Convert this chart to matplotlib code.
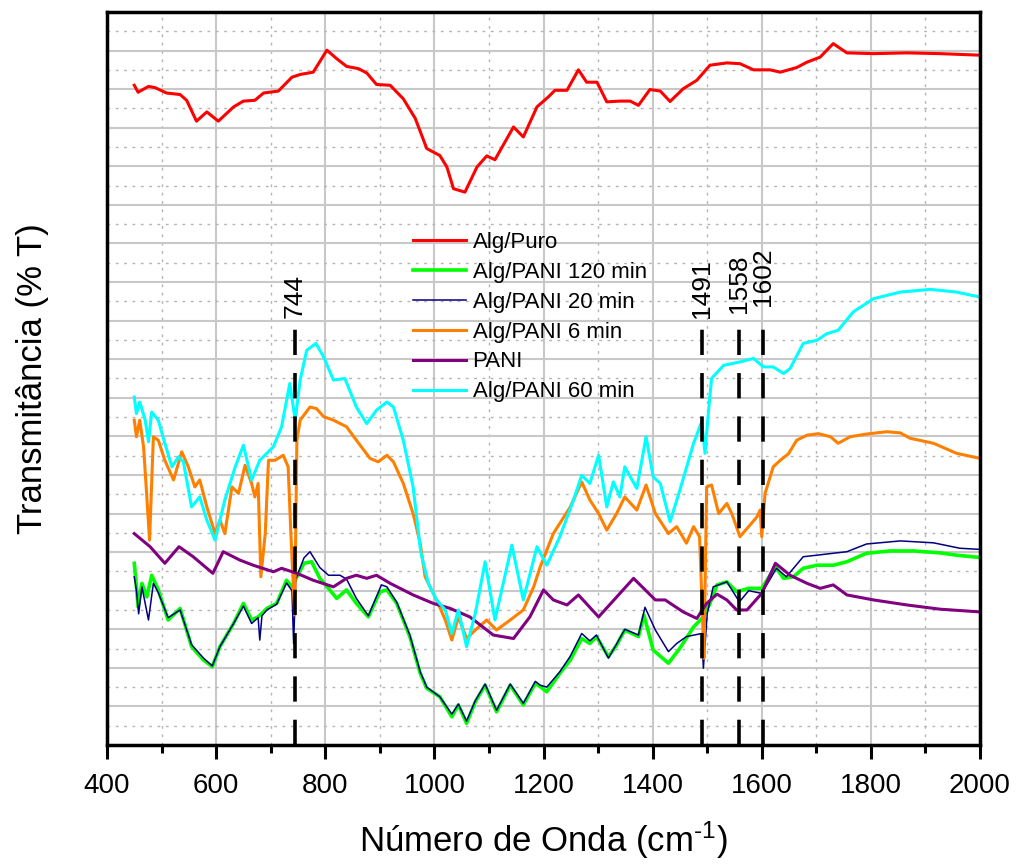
import numpy as np
import matplotlib
matplotlib.use("Agg")
import matplotlib.pyplot as plt
from matplotlib.ticker import MultipleLocator

plt.rcParams['font.family'] = ['Liberation Sans', 'DejaVu Sans']
plt.rcParams['mathtext.fontset'] = 'custom'
plt.rcParams['mathtext.rm'] = 'Liberation Sans'
plt.rcParams['mathtext.default'] = 'regular'

# spectra: (wavenumber, transmittance in arbitrary units)
alg_puro = [(450, 17.10), (457, 16.92), (476, 17.07), (488, 17.04), (509, 16.90), (534, 16.86),
            (546, 16.71), (564, 16.17), (583, 16.41), (604, 16.17), (632, 16.54), (650, 16.69),
            (671, 16.71), (687, 16.90), (714, 16.95), (739, 17.31), (754, 17.38), (778, 17.44),
            (803, 18.01), (821, 17.79), (839, 17.59), (861, 17.53), (876, 17.42), (894, 17.12),
            (919, 17.10), (943, 16.75), (965, 16.24), (986, 15.46), (1010, 15.28), (1023, 14.98),
            (1035, 14.42), (1056, 14.33), (1078, 14.98), (1096, 15.27), (1111, 15.17), (1145, 16.02),
            (1163, 15.76), (1188, 16.54), (1209, 16.80), (1221, 16.97), (1243, 16.97), (1264, 17.50),
            (1279, 17.18), (1298, 17.18), (1316, 16.67), (1340, 16.69), (1359, 16.69), (1374, 16.58),
            (1395, 16.99), (1414, 16.95), (1432, 16.68), (1456, 17.01), (1481, 17.23), (1505, 17.62),
            (1536, 17.68), (1560, 17.66), (1585, 17.50), (1615, 17.50), (1634, 17.44), (1664, 17.56),
            (1683, 17.70), (1707, 17.83), (1731, 18.18), (1756, 17.94), (1805, 17.92), (1866, 17.94),
            (1927, 17.92), (2000, 17.88)]

pani_120 = [(450, 4.71), (454, 4.10), (457, 3.58), (464, 4.19), (473, 3.84), (482, 4.40), (494, 4.02),
            (512, 3.24), (534, 3.54), (555, 2.55), (577, 2.20), (593, 2.03), (607, 2.55), (632, 3.15),
            (650, 3.67), (665, 3.24), (677, 3.32), (693, 3.54), (711, 3.67), (729, 4.27), (739, 4.10),
            (748, 4.36), (761, 4.71), (775, 4.75), (790, 4.32), (806, 4.06), (821, 3.80), (839, 4.02),
            (857, 3.67), (879, 3.32), (900, 3.97), (913, 4.02), (931, 3.67), (955, 2.81), (974, 1.86),
            (986, 1.47), (1010, 1.25), (1032, 0.73), (1044, 1.04), (1059, 0.56), (1075, 1.12),
            (1093, 1.55), (1114, 0.86), (1139, 1.55), (1163, 1.04), (1185, 1.60), (1194, 1.51),
            (1206, 1.38), (1230, 1.86), (1249, 2.20), (1270, 2.76), (1285, 2.63), (1297, 2.81),
            (1319, 2.29), (1334, 2.59), (1349, 2.98), (1374, 2.81), (1384, 3.37), (1401, 2.46),
            (1429, 2.12), (1450, 2.51), (1475, 3.06), (1493, 3.32), (1505, 3.67), (1518, 4.15),
            (1536, 4.23), (1554, 3.97), (1576, 4.06), (1600, 4.06), (1625, 4.62), (1640, 4.32),
            (1658, 4.36), (1676, 4.58), (1701, 4.66), (1731, 4.66), (1756, 4.75), (1792, 4.97),
            (1835, 5.03), (1878, 5.03), (1927, 4.98), (1957, 4.92), (2000, 4.86)]

pani_20 = [(450, 4.36), (454, 4.00), (458, 3.40), (464, 4.10), (476, 3.24), (485, 4.19), (494, 3.95),
           (512, 3.30), (534, 3.50), (555, 2.60), (577, 2.25), (593, 2.05), (607, 2.55), (632, 3.15),
           (650, 3.60), (665, 3.15), (677, 3.30), (680, 2.72), (684, 3.35), (693, 3.50), (711, 3.65),
           (729, 4.20), (739, 4.00), (742, 2.63), (746, 4.30), (761, 4.85), (772, 5.01), (790, 4.60),
           (806, 4.40), (827, 4.40), (839, 4.30), (857, 3.80), (879, 3.35), (903, 4.15), (913, 4.10),
           (931, 3.70), (955, 2.85), (974, 1.90), (986, 1.50), (1010, 1.25), (1032, 0.80),
           (1044, 1.06), (1059, 0.62), (1075, 1.15), (1093, 1.58), (1114, 0.90), (1139, 1.58),
           (1163, 1.08), (1185, 1.65), (1194, 1.55), (1206, 1.50), (1230, 1.90), (1249, 2.30),
           (1270, 2.89), (1285, 2.70), (1297, 2.85), (1319, 2.25), (1334, 2.62), (1349, 3.00),
           (1374, 2.85), (1386, 3.57), (1405, 2.98), (1429, 2.42), (1444, 2.63), (1462, 2.81),
           (1490, 2.89), (1493, 1.99), (1500, 3.40), (1511, 4.10), (1536, 4.23), (1559, 3.71),
           (1576, 4.00), (1600, 3.93), (1627, 4.58), (1645, 4.36), (1676, 4.88), (1701, 4.92),
           (1731, 4.97), (1756, 5.01), (1792, 5.21), (1854, 5.29), (1915, 5.24), (1963, 5.10),
           (2000, 5.07)]

pani_6 = [(450, 8.42), (454, 7.99), (460, 8.42), (467, 7.73), (473, 6.43), (478, 5.31), (485, 7.99),
          (494, 7.90), (506, 7.38), (522, 6.87), (537, 7.60), (549, 7.21), (561, 6.69), (570, 6.87),
          (583, 6.17), (598, 5.48), (607, 5.83), (616, 5.48), (629, 6.69), (641, 6.52), (653, 7.25),
          (665, 6.78), (671, 6.43), (677, 6.78), (682, 4.36), (690, 5.48), (696, 7.38), (708, 7.38),
          (723, 7.51), (732, 7.21), (737, 5.48), (744, 3.37), (748, 7.90), (754, 8.42), (772, 8.76),
          (784, 8.72), (797, 8.51), (815, 8.42), (839, 8.25), (857, 7.90), (882, 7.43), (897, 7.34),
          (913, 7.51), (925, 7.34), (943, 6.78), (961, 6.00), (974, 5.23), (983, 4.36), (1004, 3.76),
          (1020, 3.24), (1032, 2.72), (1044, 3.32), (1059, 2.76), (1078, 3.02), (1096, 3.24),
          (1114, 2.98), (1139, 3.24), (1163, 3.50), (1182, 4.10), (1194, 4.62), (1206, 5.05),
          (1218, 5.48), (1249, 6.17), (1270, 6.82), (1285, 6.35), (1301, 6.00), (1316, 5.57),
          (1334, 6.00), (1349, 6.43), (1371, 6.09), (1388, 6.74), (1405, 6.00), (1429, 5.48),
          (1444, 5.66), (1462, 5.23), (1475, 5.66), (1486, 5.40), (1491, 3.50), (1494, 2.25),
          (1499, 6.69), (1508, 6.74), (1521, 6.00), (1536, 6.26), (1545, 6.00), (1560, 5.40),
          (1576, 5.66), (1591, 5.91), (1597, 6.09), (1600, 5.40), (1606, 6.52), (1621, 7.21),
          (1634, 7.38), (1649, 7.55), (1664, 7.90), (1683, 8.03), (1704, 8.07), (1726, 7.99),
          (1740, 7.82), (1762, 7.99), (1792, 8.06), (1829, 8.12), (1854, 8.09), (1872, 7.95),
          (1915, 7.82), (1957, 7.56), (2000, 7.43)]

pani = [(450, 5.48), (479, 5.14), (506, 4.71), (532, 5.14), (558, 4.88), (594, 4.45), (613, 5.01),
        (644, 4.79), (668, 4.66), (705, 4.49), (720, 4.58), (748, 4.45), (778, 4.27), (815, 4.10),
        (839, 4.32), (857, 4.40), (876, 4.32), (894, 4.40), (919, 4.19), (961, 3.89), (998, 3.67),
        (1029, 3.54), (1065, 3.32), (1108, 2.85), (1145, 2.76), (1175, 3.32), (1200, 4.02),
        (1218, 3.76), (1243, 3.63), (1264, 3.89), (1301, 3.32), (1365, 4.32), (1405, 3.76),
        (1423, 3.76), (1456, 3.45), (1481, 3.28), (1499, 3.67), (1518, 3.91), (1536, 3.76),
        (1554, 3.50), (1573, 3.50), (1600, 3.93), (1625, 4.71), (1652, 4.40), (1683, 4.19),
        (1707, 4.06), (1731, 4.15), (1756, 3.89), (1805, 3.76), (1866, 3.63), (1927, 3.52),
        (2000, 3.45)]

pani_60 = [(450, 9.02), (454, 8.59), (460, 8.89), (470, 8.42), (476, 7.86), (482, 8.63), (494, 8.42),
           (506, 7.82), (519, 7.21), (531, 7.47), (540, 7.34), (555, 6.17), (570, 6.43), (583, 5.83),
           (598, 5.31), (616, 6.35), (635, 7.21), (650, 7.77), (665, 6.87), (680, 7.38), (705, 7.73),
           (720, 8.25), (735, 9.37), (745, 8.42), (754, 9.46), (766, 10.23), (783, 10.41),
           (797, 10.06), (815, 9.46), (836, 9.50), (857, 8.76), (876, 8.33), (894, 8.68), (913, 8.89),
           (925, 8.76), (943, 7.90), (961, 6.69), (975, 5.00), (989, 4.19), (1004, 3.76), (1020, 3.50),
           (1032, 2.89), (1044, 3.50), (1059, 2.55), (1075, 3.41), (1093, 4.75), (1111, 3.24),
           (1142, 5.18), (1163, 3.76), (1188, 5.14), (1206, 4.66), (1230, 5.40), (1255, 6.35),
           (1270, 6.99), (1285, 6.78), (1301, 7.51), (1316, 6.17), (1328, 6.82), (1340, 6.43),
           (1349, 7.21), (1371, 6.65), (1388, 7.99), (1401, 6.95), (1414, 6.78), (1432, 5.79),
           (1450, 6.61), (1475, 7.82), (1490, 8.38), (1496, 7.56), (1502, 8.59), (1508, 9.50),
           (1530, 9.84), (1560, 9.93), (1585, 10.02), (1603, 9.80), (1621, 9.80), (1640, 9.63),
           (1652, 9.76), (1676, 10.41), (1701, 10.49), (1719, 10.66), (1740, 10.75), (1768, 11.23),
           (1805, 11.57), (1854, 11.74), (1909, 11.81), (1957, 11.74), (2000, 11.61)]

series = [alg_puro, pani_120, pani_20, pani_6, pani, pani_60]
labels = ['Alg/Puro', 'Alg/PANI 120 min', 'Alg/PANI 20 min', 'Alg/PANI 6 min', 'PANI', 'Alg/PANI 60 min']
colors = ['#ff0000', '#00ff00', '#000080', '#ff8000', '#800080', '#00ffff']
widths = [2.2, 2.6, 1.1, 2.2, 2.2, 2.2]

peaks = [744, 1491, 1558, 1602]
peak_top = 10.83
label_base = [11.06, 11.06, 11.2, 11.37]

fig = plt.figure(figsize=(10.2, 8.68), dpi=100)
ax = fig.add_axes([0.1049, 0.1417, 0.8559, 0.8445])

for data, lab, c, w in zip(series, labels, colors, widths):
    arr = np.array(data)
    ax.plot(arr[:, 0], arr[:, 1], color=c, lw=w, label=lab)

for p, yb in zip(peaks, label_base):
    ax.plot([p, p], [0, peak_top], color='black', lw=2.6, ls=(0, (7, 5)), zorder=5)
    ax.text(p, yb, str(p), rotation=90, ha='center', va='bottom', fontsize=19)

ax.set_xlim(400, 2000)
ax.set_ylim(0, 19)
ax.xaxis.set_major_locator(MultipleLocator(200))
ax.xaxis.set_minor_locator(MultipleLocator(100))
ax.yaxis.set_major_locator(MultipleLocator(1))
ax.yaxis.set_minor_locator(MultipleLocator(0.5))

ax.grid(which='major', color='#c8c8c8', lw=1.5, ls='-')
ax.grid(which='minor', color='#b4b4b4', lw=1.0, ls=(0, (2, 4)))
ax.set_axisbelow(True)

ax.tick_params(axis='x', which='major', direction='out', length=10, width=2.2, labelsize=20, pad=10)
ax.tick_params(axis='x', which='minor', direction='out', length=6, width=2.2)
ax.tick_params(axis='y', which='both', left=False, labelleft=False)

for s in ax.spines.values():
    s.set_linewidth(2.5)
    s.set_color('black')

ax.set_xlabel(r'Número de Onda (cm$^{\text{-}1}$)', fontsize=25, labelpad=15)
ax.set_ylabel('Transmitância (% T)', fontsize=25, labelpad=42)

ax.legend(loc='upper left', bbox_to_anchor=(0.35, 0.700), frameon=False, fontsize=16,
          handlelength=2.4, handletextpad=0.3, labelspacing=0.40, borderpad=0, borderaxespad=0)

fig.savefig('out.png', dpi=100)
